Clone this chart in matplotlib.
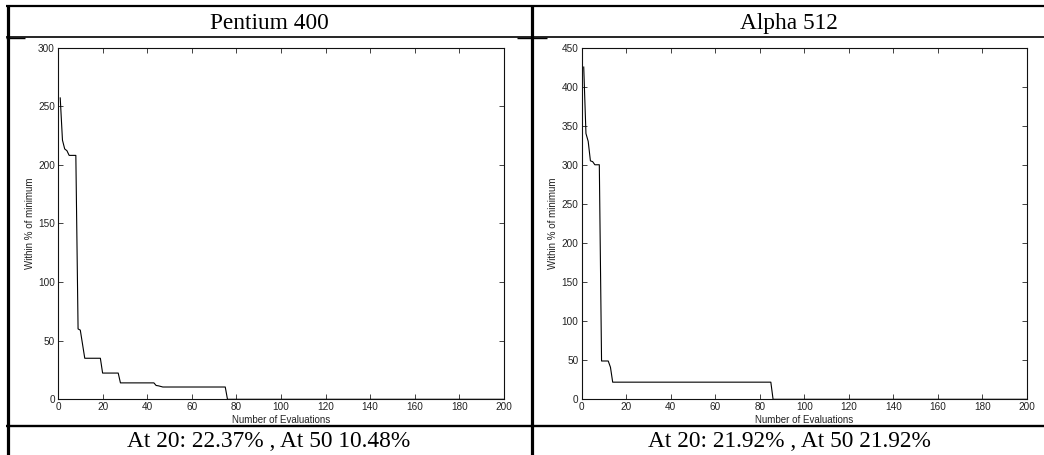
import matplotlib
matplotlib.use("Agg")
import matplotlib.pyplot as plt
from matplotlib.lines import Line2D

# ---- data (polyline vertices) ----
panel_titles = ["Pentium 400", "Alpha 512"]
captions = ["At 20: 22.37% , At 50 10.48%", "At 20: 21.92% , At 50 21.92%"]

pentium_evals = [1, 2, 3, 4, 5, 8, 9, 10, 11, 12, 19, 20, 27, 28, 43, 44, 45, 46, 47, 75, 76, 200]
pentium_within = [257, 221, 213.5, 212, 208, 208, 60, 59, 47, 35, 35, 22.37, 22.37, 14, 14,
                  11.8, 11.5, 11.0, 10.48, 10.48, 0, 0]

alpha_evals = [1, 2, 3, 4, 5, 6, 8, 9, 12, 13, 14, 85, 86, 200]
alpha_within = [425, 340, 330, 305, 304, 300, 300, 49, 49, 41, 21.92, 21.92, 0, 0]

xlims = [(0, 200), (0, 200)]
ylims = [(0, 300), (0, 450)]
xticks = [0, 20, 40, 60, 80, 100, 120, 140, 160, 180, 200]
yticks_list = [[0, 50, 100, 150, 200, 250, 300],
               [0, 50, 100, 150, 200, 250, 300, 350, 400, 450]]
xlabel = "Number of Evaluations"
ylabel = "Within % of minimum"

series = [(pentium_evals, pentium_within), (alpha_evals, alpha_within)]

# ---- figure ----
W, H = 1044, 455
fig = plt.figure(figsize=(W / 100, H / 100), dpi=100)
fig.patch.set_facecolor("white")

sans = ["Liberation Sans", "DejaVu Sans"]
serif = ["Liberation Serif", "DejaVu Serif"]

axes_px = [(58, 504), (581.5, 1027)]
ax_top_px, ax_bot_px = 47.5, 399.3

for i, (x0, x1) in enumerate(axes_px):
    ax = fig.add_axes([x0 / W, 1 - ax_bot_px / H, (x1 - x0) / W, (ax_bot_px - ax_top_px) / H])
    xs, ys = series[i]
    ax.plot(xs, ys, color="black", lw=0.8)
    ax.set_xlim(*xlims[i])
    ax.set_ylim(*ylims[i])
    ax.set_xticks(xticks)
    ax.set_yticks(yticks_list[i])
    ax.tick_params(direction="in", length=3.5, width=0.6, top=True, right=True,
                   labelsize=7.2, pad=2.2, colors="#222222", labelcolor="#222222")
    for lab in ax.get_xticklabels() + ax.get_yticklabels():
        lab.set_family(sans)
    for s in ax.spines.values():
        s.set_linewidth(0.8)
        s.set_color("#111111")
    ax.set_xlabel(xlabel, fontsize=7.0, family=sans, color="#222222")
    ax.set_ylabel(ylabel, fontsize=7.0, family=sans, color="#222222")
    ax.xaxis.set_label_coords(0.5, -0.046)
    ax.xaxis.label.set_va("top")
    ax.yaxis.set_label_coords(-0.052, 0.5)

# ---- table rules ----
def hline(y, xa, xb, lw):
    fig.add_artist(Line2D([xa / W, xb / W], [1 - y / H, 1 - y / H], color="black", lw=lw,
                          solid_capstyle="butt", transform=fig.transFigure))

def vline(x, ya, yb, lw):
    fig.add_artist(Line2D([x / W, x / W], [1 - ya / H, 1 - yb / H], color="black", lw=lw,
                          solid_capstyle="butt", transform=fig.transFigure))

hline(6.2, 6, W, 1.6)
hline(36.9, 6, W, 1.2)
hline(38.3, 6, 25, 1.0)
hline(38.3, 517, 547, 1.0)
hline(426.2, 6, W, 1.7)
vline(7.6, 5, H, 2.3)
vline(531.6, 5, H, 2.3)

# ---- header and caption text ----
centers = [269.0, 789.0]
for i, c in enumerate(centers):
    fig.text(c / W, 1 - 29.3 / H, panel_titles[i], ha="center", va="baseline",
             fontsize=16.8, family=serif, color="black")
    fig.text(c / W, 1 - 446.7 / H, captions[i], ha="center", va="baseline",
             fontsize=16.8, family=serif, color="black")

fig.savefig("out.png", dpi=100, facecolor="white")
